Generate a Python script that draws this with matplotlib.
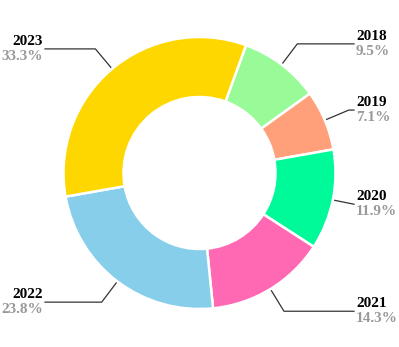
import numpy as np
import matplotlib.pyplot as plt

# Data
years = ['2018', '2019', '2020', '2021', '2022', '2023']
counts = [4, 3, 5, 6, 10, 14]
colors = ['#98FB98', '#FFA07A', '#00FA9A', '#FF69B4', '#87CEEB', '#FFD700']

plt.rcParams['font.family'] = ['Liberation Serif', 'DejaVu Serif']

fig = plt.figure(figsize=(3.99, 3.47), dpi=100)
ax = fig.add_axes([0, 0, 1, 1])

cx, cy = 199.5, 174
R = 136
wedges, _ = ax.pie(counts, colors=colors, startangle=70, counterclock=False,
                   center=(cx, cy), radius=R,
                   wedgeprops=dict(width=60, edgecolor='white', linewidth=1.8))

ax.set_xlim(0, 399)
ax.set_ylim(0, 347)
ax.set_aspect('equal')
ax.axis('off')

total = sum(counts)
for w, yr, c in zip(wedges, years, counts):
    mid = np.deg2rad((w.theta1 + w.theta2) / 2)
    x0, y0 = cx + (R + 2) * np.cos(mid), cy + (R + 2) * np.sin(mid)
    x1, y1 = cx + (R + 26) * np.cos(mid), cy + (R + 26) * np.sin(mid)
    right = np.cos(mid) > 0
    xe = 354 if right else 45
    # clip the radial part if it runs past the label edge
    if (right and x1 > xe) or (not right and x1 < xe):
        t = (xe - x0) / (x1 - x0)
        x1, y1 = xe, y0 + t * (y1 - y0)
    ax.plot([x0, x1, xe], [y0, y1, y1], color='#333333', lw=0.9)
    tx = xe + 2 if right else xe - 2
    ha = 'left' if right else 'right'
    ax.text(tx, y1 + 7.5, yr, ha=ha, va='center', fontsize=11,
            fontweight='bold', color='black')
    ax.text(tx, y1 - 7.5, f'{100 * c / total:.1f}%', ha=ha, va='center',
            fontsize=11, fontweight='bold', color='#999999')

fig.savefig('out.png', dpi=100)
